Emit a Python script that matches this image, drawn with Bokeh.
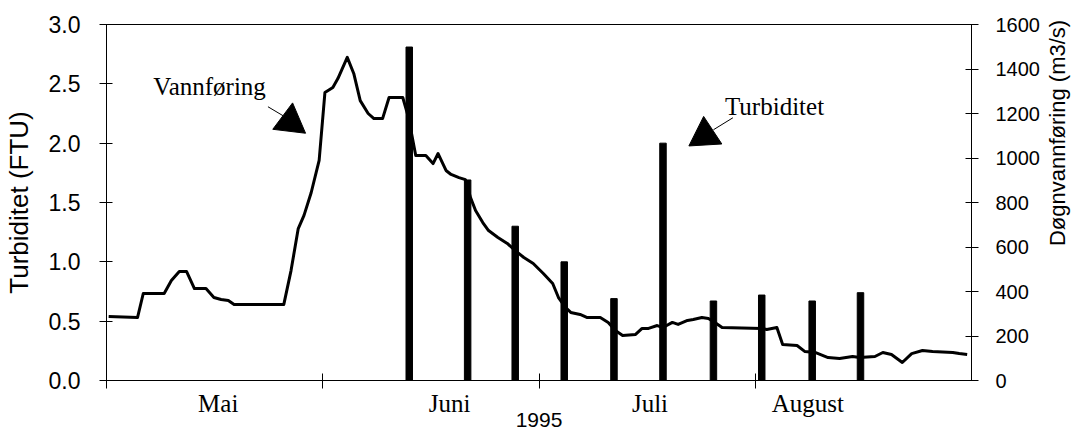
import math
from bokeh.plotting import figure
from bokeh.models import (Range1d, LinearAxis, FixedTicker, NumeralTickFormatter)
from bokeh.core.properties import value
from bokeh.embed import file_html
from bokeh.resources import INLINE

# ---- data ----
# day index from start of x axis (ticks every 30 days)
flow_day = [0.3, 4.3, 5.1, 8.0, 9.0, 10.1, 11.1, 12.2, 13.8, 14.9, 15.9, 16.9, 17.7,
            24.6, 25.6, 26.6, 27.4, 28.4, 29.5, 30.3, 31.4, 32.1, 33.4, 34.3, 35.2,
            36.3, 37.1, 38.3, 39.2, 41.1, 41.9, 42.9, 44.3, 45.3, 46.0, 47.1, 47.8,
            48.9, 49.8, 50.5, 51.2, 52.2, 53.0, 54.3, 55.6, 56.7, 57.9, 59.2, 60.6,
            61.9, 62.7, 63.7, 64.4, 65.7, 66.7, 68.5, 69.6, 70.6, 71.6, 73.4, 74.3,
            75.2, 76.4, 77.2, 78.5, 79.3, 80.6, 81.4, 82.6, 83.5, 84.4, 85.4, 90.9,
            91.6, 93.0, 93.8, 95.8, 96.9, 98.3, 100.1, 101.7, 103.5, 104.5, 106.6,
            107.7, 108.9, 110.4, 111.7, 113.2, 114.6, 117.4, 118.3, 119.4]
flow_val = [288, 283, 391, 391, 449, 490, 490, 413, 413, 373, 364, 360, 342,
            342, 494, 683, 742, 845, 989, 1294, 1317, 1357, 1452, 1380, 1258,
            1200, 1177, 1177, 1272, 1272, 1182, 1011, 1011, 975, 1020, 944, 926,
            912, 903, 822, 764, 710, 674, 643, 616, 584, 553, 526, 481,
            436, 373, 328, 306, 297, 283, 283, 261, 225, 202, 207, 234,
            234, 247, 238, 261, 252, 270, 274, 283, 279, 261, 238, 234,
            229, 238, 162, 157, 130, 126, 103, 99, 108, 103, 108,
            126, 117, 81, 121, 135, 130, 126, 121, 117]

turb_day = [42.0, 50.1, 56.7, 63.5, 70.4, 77.2, 84.2, 90.9, 97.9, 104.6]
turb_val = [2.81, 1.69, 1.30, 1.00, 0.69, 2.00, 0.67, 0.72, 0.67, 0.74]

month_names = ["Mai", "Juni", "Juli", "August"]
month_label_pos = [15.5, 47.6, 75.4, 97.3]
month_tick_pos = [0, 30, 60, 90]
left_ticks = [0.0, 0.5, 1.0, 1.5, 2.0, 2.5, 3.0]
right_ticks = [0, 200, 400, 600, 800, 1000, 1200, 1400, 1600]

# annotation anchors
note_text = ["Vannføring", "Turbiditet"]
note_text_x = [6.5, 85.8]
note_text_y = [2.48, 2.31]
note_tri_x = [25.5, 83.0]
note_tri_y = [2.18, 2.065]
note_tri_angle = [-0.12, 0.06]
lead_x0 = [22.4, 86.9]
lead_y0 = [2.307, 2.214]
lead_x1 = [24.5, 84.2]
lead_y1 = [2.231, 2.113]

SANS = "Liberation Sans"
SERIF = "Liberation Serif"

p = figure(width=1086, height=433, output_backend="svg", toolbar_location=None,
           x_range=Range1d(0, 120), y_range=Range1d(0, 3.0),
           min_border_left=104, min_border_right=115, min_border_top=24,
           min_border_bottom=53)
p.extra_y_ranges = {"flow": Range1d(0, 1600)}
p.grid.visible = False
p.outline_line_color = "black"
p.outline_line_width = 1
p.background_fill_color = "white"
p.border_fill_color = "white"

# bars (turbidity, left axis)
p.vbar(x=turb_day, top=turb_val, width=0.9, color="black")
# line (discharge, right axis)
p.line(flow_day, flow_val, y_range_name="flow", line_width=3, color="black",
       line_join="round")

# annotations
p.segment(lead_x0, lead_y0, lead_x1, lead_y1, line_color="black", line_width=1)
p.scatter(note_tri_x, note_tri_y, marker="triangle", size=33, angle=note_tri_angle,
          color="black")
p.text(note_text_x, note_text_y, text=note_text, text_font=value(SERIF),
       text_font_size="25px", text_baseline="alphabetic", text_align="left",
       text_color="black")

# x axis
xa = p.xaxis[0]
xa.ticker = FixedTicker(ticks=month_label_pos, minor_ticks=month_tick_pos)
xa.major_label_overrides = {pos: name for pos, name in zip(month_label_pos, month_names)}
xa.major_tick_line_color = None
xa.major_tick_in = 0
xa.major_tick_out = 0
xa.minor_tick_in = 7
xa.minor_tick_out = 8
xa.minor_tick_line_color = "black"
xa.major_label_text_font = SERIF
xa.major_label_text_font_size = "25px"
xa.major_label_text_color = "black"
xa.major_label_standoff = 1
xa.axis_label = "1995"
xa.axis_label_text_font = SANS
xa.axis_label_text_font_size = "21px"
xa.axis_label_text_font_style = "normal"
xa.axis_label_text_color = "black"
xa.axis_label_standoff = -7
xa.axis_line_color = "black"

# left axis
ya = p.yaxis[0]
ya.ticker = FixedTicker(ticks=left_ticks)
ya.formatter = NumeralTickFormatter(format="0.0")
ya.major_tick_in = 6
ya.major_tick_out = 7
ya.minor_tick_line_color = None
ya.major_label_text_font = SANS
ya.major_label_text_font_size = "23px"
ya.major_label_text_color = "black"
ya.major_label_standoff = 19
ya.axis_label = "Turbiditet (FTU)"
ya.axis_label_text_font = SANS
ya.axis_label_text_font_size = "26px"
ya.axis_label_text_font_style = "normal"
ya.axis_label_text_color = "black"
ya.axis_label_standoff = 12
ya.axis_line_color = "black"

# right axis (title reads bottom-to-top and sits toward the top, as in the reference)
ra = LinearAxis(y_range_name="flow", ticker=FixedTicker(ticks=right_ticks))
ra.major_tick_in = 6
ra.major_tick_out = 7
ra.minor_tick_line_color = None
ra.major_label_text_font = SANS
ra.major_label_text_font_size = "20px"
ra.major_label_text_color = "black"
ra.major_label_standoff = 17
ra.axis_label = "\u00a0" * 22 + "Døgnvannføring (m3/s)"
ra.axis_label_text_font = SANS
ra.axis_label_text_font_size = "22px"
ra.axis_label_text_font_style = "normal"
ra.axis_label_text_color = "black"
ra.axis_label_standoff = 15
ra.axis_line_color = "black"
props = ra.properties()
if "axis_label_orientation" in props:
    ra.axis_label_orientation = math.pi / 2
if "axis_label_align" in props:
    ra.axis_label_align = "start"
p.add_layout(ra, "right")

open("out.html", "w").write(file_html(p, INLINE))
